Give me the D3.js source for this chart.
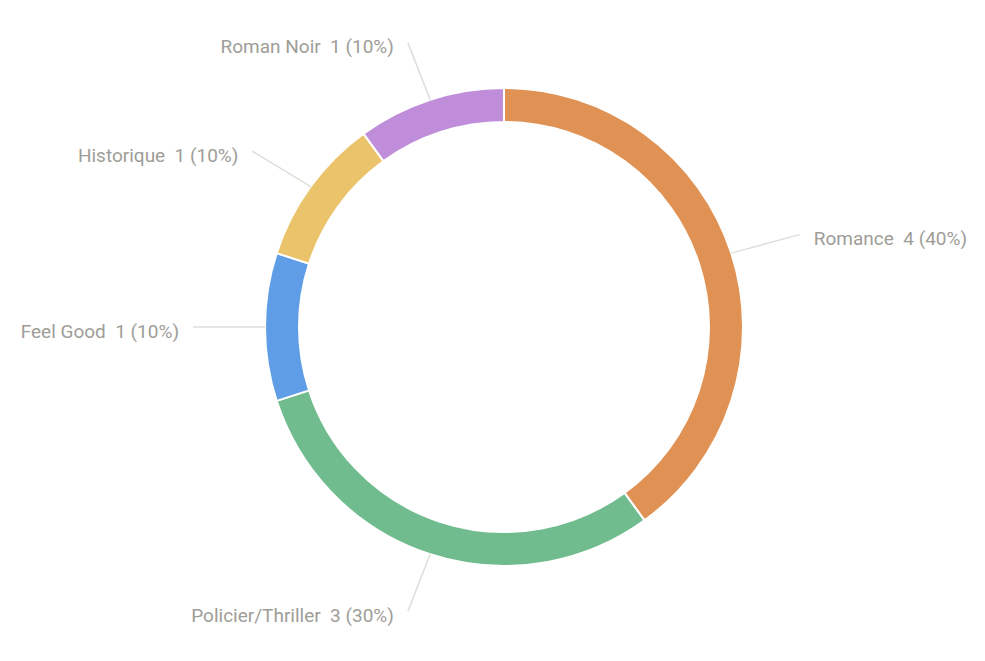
<!DOCTYPE html>
<html>
<head>
<meta charset="utf-8">
<script src="https://cdn.jsdelivr.net/npm/d3@7"></script>
<style>
  body { margin: 0; background: #fff; }
  svg { display: block; }
</style>
</head>
<body>
<div id="chart"></div>
<script>
// genres and counts, in clockwise order from 12 o'clock
var genres = ["Romance", "Policier/Thriller", "Feel Good", "Historique", "Roman Noir"];
var counts = [4, 3, 1, 1, 1];
var colours = ["#df9254", "#71bc8e", "#5f9ee7", "#ebc36b", "#bf8dd9"];

var width = 985,
    height = 661,
    cx = 504,
    cy = 327,
    outerR = 239,
    innerR = 205,
    leadX = 72,   // leader reach sideways
    leadY = 60;   // leader reach up/down

var total = d3.sum(counts);
var data = genres.map(function(g, i) {
    return { name: g, value: counts[i], colour: colours[i] };
});

var svg = d3.select("#chart").append("svg")
    .attr("width", width)
    .attr("height", height);

var g = svg.append("g").attr("transform", "translate(" + cx + "," + cy + ")");

var pie = d3.pie().sort(null).value(function(d) { return d.value; });
var arcs = pie(data);

var arc = d3.arc().innerRadius(innerR).outerRadius(outerR);

g.selectAll("path.slice")
    .data(arcs)
    .enter().append("path")
    .attr("class", "slice")
    .attr("d", arc)
    .attr("fill", function(d) { return d.data.colour; })
    .attr("stroke", "#fff")
    .attr("stroke-width", 2);

function mid(d) { return (d.startAngle + d.endAngle) / 2; }
// start of the leader on the ring
function inner(d) {
    var a = mid(d);
    return [Math.sin(a) * outerR, -Math.cos(a) * outerR];
}
// end of the leader
function outer(d) {
    var a = mid(d);
    return [Math.sin(a) * (outerR + leadX), -Math.cos(a) * (outerR + leadY)];
}

var labels = g.selectAll("g.lbl")
    .data(arcs)
    .enter().append("g")
    .attr("class", "lbl");

labels.append("line")
    .attr("x1", function(d) { return inner(d)[0]; })
    .attr("y1", function(d) { return inner(d)[1]; })
    .attr("x2", function(d) { return outer(d)[0]; })
    .attr("y2", function(d) { return outer(d)[1]; })
    .attr("stroke", "#deded8")
    .attr("stroke-width", 1.5);

labels.append("text")
    .attr("x", function(d) {
        var p = outer(d);
        return Math.sin(mid(d)) >= 0 ? p[0] + 14 : p[0] - 14;
    })
    .attr("y", function(d) { return outer(d)[1] + 4; })
    .attr("text-anchor", function(d) {
        return Math.sin(mid(d)) >= 0 ? "start" : "end";
    })
    .attr("dominant-baseline", "central")
    .style("font-family", "Roboto, 'Noto Sans', sans-serif")
    .style("font-size", "19px")
    .style("fill", "#9e9d98")
    .text(function(d) {
        var pct = Math.round(d.data.value / total * 100);
        return d.data.name + "\u00a0 " + d.data.value + " (" + pct + "%)";
    });
</script>
</body>
</html>
